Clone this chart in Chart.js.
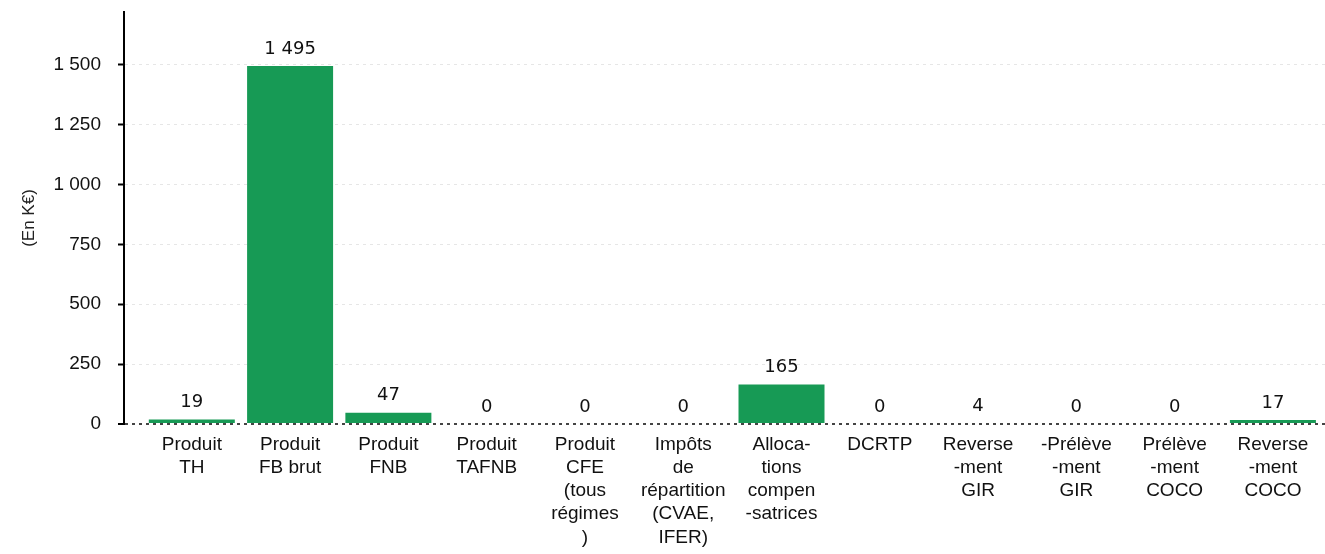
<!DOCTYPE html>
<html>
<head>
<meta charset="utf-8">
<script src="https://cdn.jsdelivr.net/npm/chart.js@4"></script>
<style>
  html, body { margin: 0; padding: 0; background: #fff; }
  #wrap { width: 1325px; height: 554px; position: relative; }
</style>
</head>
<body>
<div id="wrap"><canvas id="myChart"></canvas></div>
<script>
'use strict';

// category labels (one line per array entry)
const categories = [
  ['Produit', 'TH'],
  ['Produit', 'FB brut'],
  ['Produit', 'FNB'],
  ['Produit', 'TAFNB'],
  ['Produit', 'CFE', '(tous', 'régimes', ')'],
  ['Impôts', 'de', 'répartition', '(CVAE,', 'IFER)'],
  ['Alloca-', 'tions', 'compen', '-satrices'],
  ['DCRTP'],
  ['Reverse', '-ment', 'GIR'],
  ['-Prélève', '-ment', 'GIR'],
  ['Prélève', '-ment', 'COCO'],
  ['Reverse', '-ment', 'COCO']
];

// values in K€
const values = [19, 1495, 47, 0, 0, 0, 165, 0, 4, 0, 0, 17];

// y tick values
const yTicks = [0, 250, 500, 750, 1000, 1250, 1500];

const barColor = '#179a55';

// french style thousands: 1 495
function frNum(v){
  return String(v).replace(/\B(?=(\d{3})+(?!\d))/g, ' ');
}

// draws the value above every bar
const valueLabels = {
  id: 'valueLabels',
  afterDatasetsDraw(chart){
    const ctx = chart.ctx;
    const meta = chart.getDatasetMeta(0);
    ctx.save();
    ctx.fillStyle = '#111';
    ctx.font = '18px "DejaVu Sans"';
    ctx.textAlign = 'center';
    ctx.textBaseline = 'bottom';
    meta.data.forEach(function(bar, i){
      ctx.fillText(frNum(values[i]), bar.x, bar.y - 8);
    });
    ctx.restore();
  }
};

const points = values.map(function(v, i){ return {x: i, y: v}; });

let ctx = document.getElementById('myChart').getContext('2d');
let chart = new Chart(ctx, {
  type: 'bar',
  data: {
    datasets: [{
      data: points,
      backgroundColor: barColor,
      borderWidth: 0,
      barPercentage: 0.875,
      categoryPercentage: 1
    }]
  },
  options: {
    responsive: true,
    maintainAspectRatio: false,
    animation: false,
    layout: { padding: { left: 19, top: 12, right: 0, bottom: 0 } },
    plugins: {
      legend: { display: false },
      tooltip: { enabled: false }
    },
    scales: {
      x: {
        type: 'linear',
        offset: false,
        min: -0.69,
        max: 11.53,
        afterBuildTicks(scale){
          scale.ticks = categories.map(function(c, i){ return {value: i}; });
        },
        afterFit(scale){ scale.height = 130; },
        grid: { display: false, drawTicks: false },
        border: { display: false },
        ticks: {
          autoSkip: false,
          maxRotation: 0,
          padding: 9,
          color: '#111',
          font: { family: '"Liberation Sans", Arial', size: 19, lineHeight: 1.22 },
          callback: function(v){ return categories[v]; }
        }
      },
      y: {
        min: 0,
        max: 1720,
        afterBuildTicks(scale){
          scale.ticks = yTicks.map(function(v){ return {value: v}; });
        },
        afterFit(scale){
          scale.width = 105;
          scale.paddingTop = 0;
          scale.paddingBottom = 0;
        },
        title: {
          display: true,
          text: '(En K€)',
          color: '#222',
          font: { family: '"Liberation Sans", Arial', size: 17 },
          padding: 0
        },
        border: { display: true, color: '#000', width: 2, dash: [3, 4] },
        grid: {
          color: function(c){ return c.tick && c.tick.value === 0 ? '#444' : '#e6e6e6'; },
          lineWidth: function(c){ return c.tick && c.tick.value === 0 ? 2 : 1; },
          tickColor: '#000',
          tickLength: 6,
          tickWidth: 2
        },
        ticks: {
          padding: 17,
          color: '#111',
          font: { family: '"Liberation Sans", Arial', size: 19 },
          callback: function(v){ return frNum(v); }
        }
      }
    }
  },
  plugins: [valueLabels]
});
</script>
</body>
</html>
